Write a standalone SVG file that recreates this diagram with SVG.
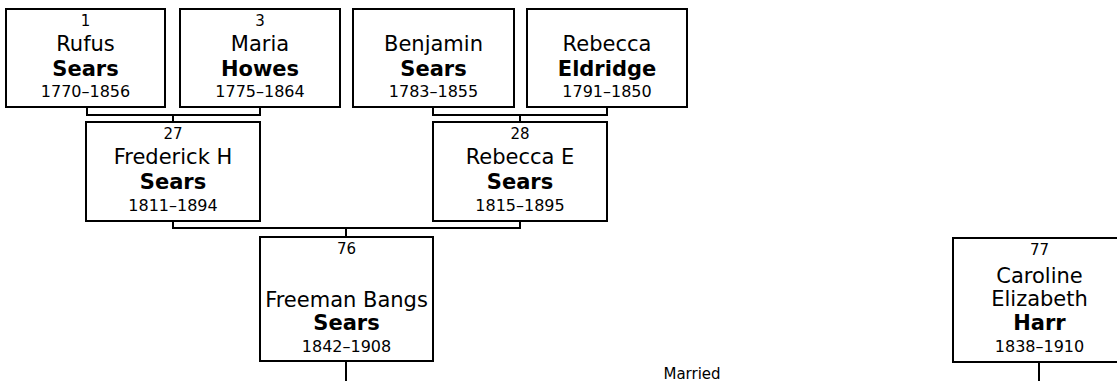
<svg xmlns="http://www.w3.org/2000/svg" width="1117" height="381" viewBox="0 0 1117 381">
<style>
.box{fill:#fff;stroke:#000;stroke-width:2}
.con{fill:none;stroke:#000;stroke-width:2}
text{font-family:"DejaVu Sans",Verdana,sans-serif;fill:#000;text-anchor:middle}
.num{font-size:15px}
.nm{font-size:21px}
.sn{font-size:21px;font-weight:bold}
.yr{font-size:16px}
.lbl{font-size:15px}
</style>
<rect width="1117" height="381" fill="#fff"/>
<g id="connectors">
<path class="con" d="M87,107 V115 H260 V107 M173,115 V122"/>
<path class="con" d="M433,107 V115 H607 V107 M520,115 V122"/>
<path class="con" d="M173,221 V228 H520 V221 M346,228 V237"/>
<path class="con" d="M346,361 V381"/>
<path class="con" d="M1039,362 V381"/>
</g>
<g id="p1">
<rect class="box" x="6" y="9" width="159" height="98"/>
<text class="num" x="85.5" y="26">1</text>
<text class="nm" x="85.5" y="51">Rufus</text>
<text class="sn" x="85.5" y="76">Sears</text>
<text class="yr" x="85.5" y="97">1770–1856</text>
</g>
<g id="p3">
<rect class="box" x="180" y="9" width="160" height="98"/>
<text class="num" x="260" y="26">3</text>
<text class="nm" x="260" y="51">Maria</text>
<text class="sn" x="260" y="76">Howes</text>
<text class="yr" x="260" y="97">1775–1864</text>
</g>
<g id="benjamin">
<rect class="box" x="353" y="9" width="161" height="98"/>
<text class="nm" x="433.5" y="51">Benjamin</text>
<text class="sn" x="433.5" y="76">Sears</text>
<text class="yr" x="433.5" y="97">1783–1855</text>
</g>
<g id="rebecca">
<rect class="box" x="527" y="9" width="160" height="98"/>
<text class="nm" x="607" y="51">Rebecca</text>
<text class="sn" x="607" y="76">Eldridge</text>
<text class="yr" x="607" y="97">1791–1850</text>
</g>
<g id="p27">
<rect class="box" x="86" y="122" width="174" height="99"/>
<text class="num" x="173" y="139">27</text>
<text class="nm" x="173" y="164">Frederick H</text>
<text class="sn" x="173" y="189">Sears</text>
<text class="yr" x="173" y="211">1811–1894</text>
</g>
<g id="p28">
<rect class="box" x="433" y="122" width="174" height="99"/>
<text class="num" x="520" y="139">28</text>
<text class="nm" x="520" y="164">Rebecca E</text>
<text class="sn" x="520" y="189">Sears</text>
<text class="yr" x="520" y="211">1815–1895</text>
</g>
<g id="p76">
<rect class="box" x="260" y="237" width="173" height="124"/>
<text class="num" x="346.5" y="254">76</text>
<text class="nm" x="346.5" y="307">Freeman Bangs</text>
<text class="sn" x="346.5" y="330">Sears</text>
<text class="yr" x="346.5" y="352">1842–1908</text>
</g>
<g id="p77">
<rect class="box" x="953" y="238" width="173" height="124"/>
<text class="num" x="1039.5" y="255">77</text>
<text class="nm" x="1039.5" y="283">Caroline</text>
<text class="nm" x="1039.5" y="306">Elizabeth</text>
<text class="sn" x="1039.5" y="330">Harr</text>
<text class="yr" x="1039.5" y="352">1838–1910</text>
</g>
<text class="lbl" x="692" y="379">Married</text>
</svg>
